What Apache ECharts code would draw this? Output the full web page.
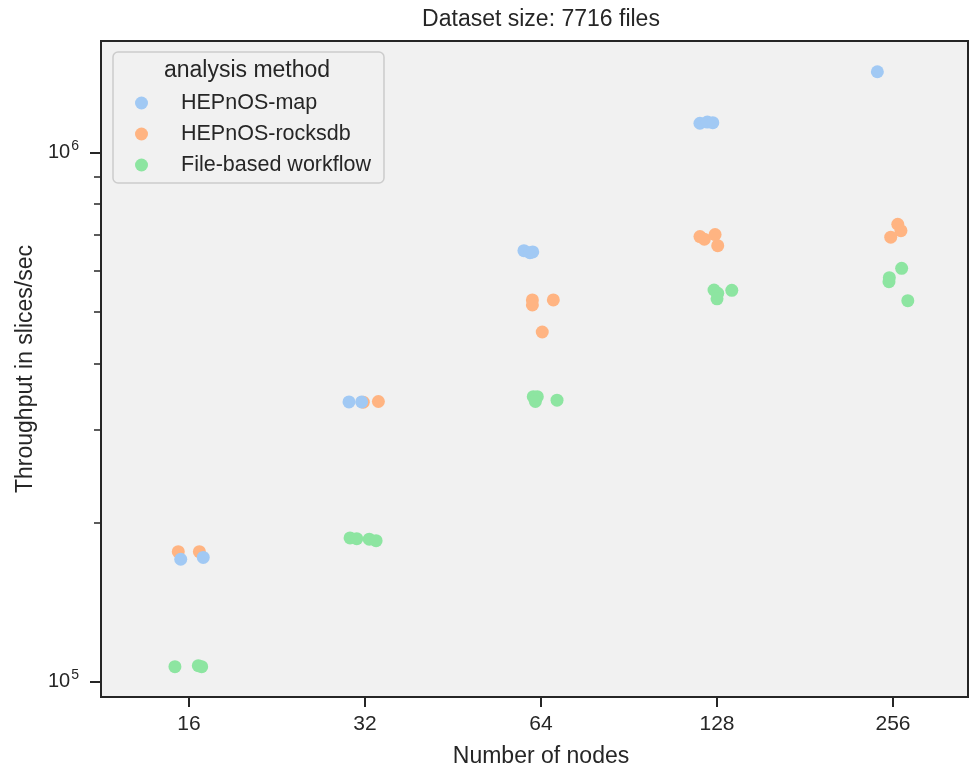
<!DOCTYPE html>
<html>
<head>
<meta charset="utf-8">
<script src="https://cdn.jsdelivr.net/npm/echarts@6/dist/echarts.min.js"></script>
<style>
  html, body { margin: 0; padding: 0; background: #fff; }
  #main { width: 970px; height: 770px; }
</style>
</head>
<body>
<div id="main"></div>
<script>
const nodeCounts = ['16', '32', '64', '128', '256'];
const methods = ['HEPnOS-map', 'HEPnOS-rocksdb', 'File-based workflow'];
const colors = ['#a1c9f4', '#ffb482', '#8de5a1'];

// each run: [node index, strip jitter, throughput in slices/sec]
const mapRuns = [
  [0, -0.047, 170600], [0, 0.081, 172000],
  [1, -0.091, 338300], [1, -0.019, 338300],
  [2, -0.097, 653500], [2, -0.063, 648000], [2, -0.047, 650000],
  [3, -0.097, 1138000], [3, -0.055, 1144000], [3, -0.024, 1141000],
  [4, -0.089, 1424000]
];
const rocksdbRuns = [
  [0, -0.061, 176300], [0, 0.059, 176300],
  [1, -0.010, 338000], [1, 0.076, 339000],
  [2, -0.049, 527400], [2, -0.049, 516100], [2, 0.070, 527400], [2, 0.007, 458700],
  [3, -0.097, 695000], [3, -0.072, 687000], [3, -0.011, 701000], [3, 0.004, 668000],
  [4, 0.027, 733200], [4, 0.045, 713000], [4, -0.013, 693000]
];
const fileRuns = [
  [0, -0.080, 106900], [0, 0.053, 107350], [0, 0.072, 106900],
  [1, -0.085, 187200], [1, -0.047, 186600], [1, 0.024, 186200], [1, 0.063, 185000],
  [2, -0.044, 346200], [2, -0.021, 346200], [2, -0.032, 339000], [2, 0.091, 341000],
  [3, -0.017, 550800], [3, 0.004, 543000], [3, 0, 530000], [3, 0.084, 550000],
  [4, 0.049, 605300], [4, -0.021, 581100], [4, -0.023, 571000], [4, 0.084, 525800]
];

const yMajor = [1e5, 1e6];
const yMinor = [2e5, 3e5, 4e5, 5e5, 6e5, 7e5, 8e5, 9e5];

const ink = '#262626';
const font = 'Liberation Sans, Arial, sans-serif';

function toPoints(runs) {
  return runs.map(r => [r[0] + r[1], r[2]]);
}

const chart = echarts.init(document.getElementById('main'), null, {renderer: 'canvas'});

const yBase = {
  type: 'log',
  logBase: 10,
  min: 93670,
  max: 1628000,
  position: 'left',
  splitLine: {show: false},
  axisLine: {show: false, onZero: false}
};

chart.setOption({
  animation: false,
  backgroundColor: '#ffffff',
  title: [
    {
      text: 'Dataset size: 7716 files',
      left: 541, top: 8, padding: 0, textAlign: 'center',
      textStyle: {fontSize: 23, fontWeight: 'normal', color: ink, fontFamily: font}
    },
    {
      text: 'Number of nodes',
      left: 541, top: 745, padding: 0, textAlign: 'center',
      textStyle: {fontSize: 23, fontWeight: 'normal', color: ink, fontFamily: font}
    },
    {
      text: 'analysis method',
      left: 247, top: 59, padding: 0, textAlign: 'center',
      z: 10,
      textStyle: {fontSize: 23, fontWeight: 'normal', color: ink, fontFamily: font}
    }
  ],
  legend: {
    data: methods,
    orient: 'vertical',
    left: 113,
    top: 52,
    padding: [39, 13, 6, 22],
    itemWidth: 13,
    itemHeight: 13,
    itemGap: 7,
    icon: 'circle',
    backgroundColor: '#f1f1f1',
    borderColor: '#cccccc',
    borderWidth: 1.5,
    borderRadius: 5,
    textStyle: {fontSize: 21.5, lineHeight: 24, color: ink, fontFamily: font, padding: [0, 0, 0, 28]}
  },
  grid: {
    left: 101, right: 2, top: 41, bottom: 73,
    show: true,
    backgroundColor: '#f1f1f1',
    borderColor: ink,
    borderWidth: 2
  },
  xAxis: {
    type: 'value',
    min: -0.5,
    max: 4.426,
    splitLine: {show: false},
    axisLine: {show: false, onZero: false},
    axisTick: {
      show: true, length: 10, lineStyle: {color: ink, width: 2},
      customValues: [0, 1, 2, 3, 4]
    },
    axisLabel: {
      customValues: [0, 1, 2, 3, 4],
      formatter: v => nodeCounts[Math.round(v)],
      margin: 17,
      fontSize: 21,
      color: ink,
      fontFamily: font
    }
  },
  yAxis: [
    Object.assign({}, yBase, {
      name: 'Throughput in slices/sec',
      nameLocation: 'middle',
      nameGap: 64,
      nameTextStyle: {fontSize: 23, color: ink, fontFamily: font},
      axisTick: {show: true, length: 11, lineStyle: {color: ink, width: 2}, customValues: yMajor},
      axisLabel: {
        customValues: yMajor,
        margin: 22,
        color: ink,
        fontFamily: font,
        formatter: v => '{b|10}{s|' + Math.round(Math.log10(v)) + '}',
        rich: {
          b: {fontSize: 20, color: ink, fontFamily: font},
          s: {fontSize: 14, color: ink, fontFamily: font, padding: [0, 0, 14, 1]}
        }
      }
    }),
    Object.assign({}, yBase, {
      axisTick: {show: true, length: 7, lineStyle: {color: ink, width: 1.5}, customValues: yMinor},
      axisLabel: {show: false}
    })
  ],
  series: [
    {
      name: methods[2], type: 'scatter', data: toPoints(fileRuns),
      symbolSize: 13, itemStyle: {color: colors[2], opacity: 1}
    },
    {
      name: methods[1], type: 'scatter', data: toPoints(rocksdbRuns),
      symbolSize: 13, itemStyle: {color: colors[1], opacity: 1}
    },
    {
      name: methods[0], type: 'scatter', data: toPoints(mapRuns),
      symbolSize: 13, itemStyle: {color: colors[0], opacity: 1}
    }
  ]
});
</script>
</body>
</html>
